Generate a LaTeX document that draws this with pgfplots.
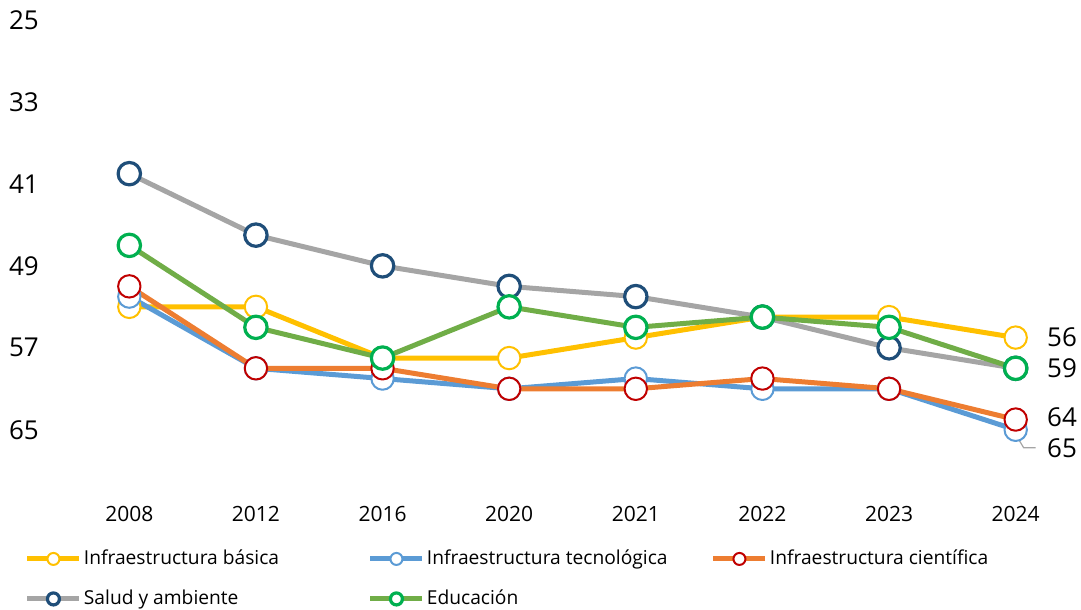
\documentclass[border=0pt]{standalone}
\usepackage{pgfplots}
\pgfplotsset{compat=1.18}
\usepackage{fontspec}
\setmainfont{Open Sans}

\definecolor{cBasica}{HTML}{FFC000}
\definecolor{cTecno}{HTML}{5B9BD5}
\definecolor{cCienc}{HTML}{ED7D31}
\definecolor{cCiencMk}{HTML}{C00000}
\definecolor{cSalud}{HTML}{A5A5A5}
\definecolor{cSaludMk}{HTML}{1F4E79}
\definecolor{cEduc}{HTML}{70AD47}
\definecolor{cEducMk}{HTML}{00B050}

% x: 0=2008 ... 7=2024 ; y = posicion en el ranking
\pgfplotstableread{
x basica tecno cienc salud educ
0 53 52 51 40 47
1 53 59 59 46 55
2 58 60 59 49 58
3 58 61 61 51 53
4 56 60 61 52 55
5 54 61 60 54 54
6 54 61 61 57 55
7 56 65 64 59 59
}\datos

\begin{document}
\begin{tikzpicture}
\useasboundingbox (0,0) rectangle (540.5pt,305pt);
\begin{axis}[
  at={(33pt,64.5pt)}, anchor=south west,
  scale only axis, width=506.5pt, height=230.5pt,
  xmin=-0.5, xmax=7.5,
  ymin=25, ymax=70, y dir=reverse,
  ytick={25,33,41,49,57,65},
  xtick={0,...,7},
  xticklabels={2008,2012,2016,2020,2021,2022,2023,2024},
  axis line style={draw=none},
  major tick length=0pt,
  /pgf/number format/assume math mode=true,
  yticklabel style={font=\fontsize{13}{15}\selectfont, xshift=-9pt},
  xticklabel style={font=\fontsize{10.5}{12}\selectfont, yshift=-8pt},
  clip=false,
  line width=2.5pt,
  every axis plot/.append style={line join=round},
  mark size=5.6pt,
  legend columns=3,
  legend cell align=left,
  legend style={
    at={(-0.043,-0.143)}, anchor=north west,
    draw=none, fill=none, inner sep=0pt,
    font=\fontsize{9.6}{12}\selectfont,
    nodes={inner sep=0pt, text height=7.5pt, text depth=2pt},
    column sep=1pt, row sep=10.5pt,
  },
  legend image code/.code={
    \draw[#1, line width=2.5pt, mark size=3pt, mark repeat=2, mark phase=2]
      plot coordinates {(0pt,0pt) (13pt,0pt) (26pt,0pt)};
  },
]
\addplot[cBasica, mark=*, mark options={fill=white, draw=cBasica, line width=1pt}]
  table[x=x, y=basica] {\datos};
\addlegendentry{\makebox[141pt][l]{Infraestructura básica}}
\addplot[cTecno, mark=*, mark options={fill=white, draw=cTecno, line width=1pt}]
  table[x=x, y=tecno] {\datos};
\addlegendentry{\makebox[141pt][l]{Infraestructura tecnológica}}
\addplot[cCienc, mark=*, mark options={fill=white, draw=cCiencMk, line width=1pt}]
  table[x=x, y=cienc] {\datos};
\addlegendentry{Infraestructura científica}
\addplot[cSalud, mark=*, mark options={fill=white, draw=cSaludMk, line width=1.6pt}]
  table[x=x, y=salud] {\datos};
\addlegendentry{\makebox[141pt][l]{Salud y ambiente}}
\addplot[cEduc, mark=*, mark options={fill=white, draw=cEducMk, line width=1.6pt}]
  table[x=x, y=educ] {\datos};
\addlegendentry{\makebox[141pt][l]{Educación}}

% etiquetas del ultimo dato
\begin{scope}[font=\fontsize{13}{15}\selectfont]
\node[anchor=west, inner sep=0pt, xshift=14.5pt] at (axis cs:7,56) {56};
\node[anchor=west, inner sep=0pt, xshift=14.5pt] at (axis cs:7,59) {59};
\node[anchor=west, inner sep=0pt, xshift=14.5pt] at (axis cs:7,63.8) {64};
\node[anchor=west, inner sep=0pt, xshift=14.5pt, yshift=-9pt] at (axis cs:7,65) {65};
\draw[cSalud, line width=0.6pt] ([xshift=1pt,yshift=-4pt]axis cs:7,65)
  -- ([xshift=4pt,yshift=-9pt]axis cs:7,65) -- ([xshift=10pt,yshift=-9pt]axis cs:7,65);
\end{scope}
\end{axis}
\end{tikzpicture}
\end{document}
